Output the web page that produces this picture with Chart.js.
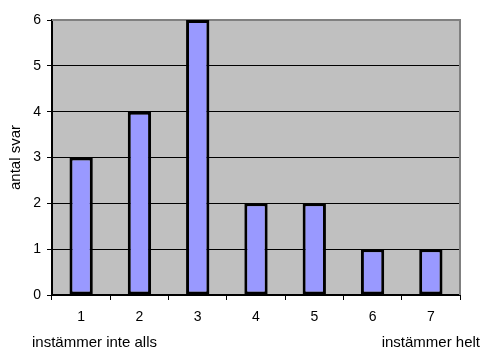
<!DOCTYPE html>
<html>
<head>
<meta charset="utf-8">
<script src="https://cdn.jsdelivr.net/npm/chart.js@4/dist/chart.umd.min.js"></script>
<style>
  html, body { margin: 0; padding: 0; background: #fff; }
  #wrap { width: 482px; height: 349px; }
</style>
</head>
<body>
<div id="wrap"><canvas id="c" width="482" height="349"></canvas></div>
<script>
// Response scale 1–7 and number of answers per step
const categories = ['1', '2', '3', '4', '5', '6', '7'];
const answerCounts = [3, 4, 6, 2, 2, 1, 1];
const yTicks = [0, 1, 2, 3, 4, 5, 6];
const yAxisTitle = 'antal svar';
const scaleLowText = 'instämmer inte alls';
const scaleHighText = 'instämmer helt';

const FONT = 'Liberation Sans, Arial, sans-serif';

// Grey plot background, grey top/right frame, and the scale-end captions
const plotDecor = {
  id: 'plotDecor',
  beforeDraw(chart) {
    const { ctx, chartArea: a } = chart;
    ctx.save();
    ctx.fillStyle = '#c0c0c0';
    ctx.fillRect(a.left, a.top, a.right - a.left, a.bottom - a.top);
    ctx.restore();
  },
  beforeDatasetsDraw(chart) {
    const { ctx, chartArea: a } = chart;
    ctx.save();
    ctx.strokeStyle = '#808080';
    ctx.lineWidth = 2;
    ctx.beginPath();
    ctx.moveTo(a.left, a.top);
    ctx.lineTo(a.right, a.top);
    ctx.lineTo(a.right, a.bottom);
    ctx.stroke();
    ctx.restore();
  },
  afterDraw(chart) {
    const { ctx } = chart;
    ctx.save();
    ctx.fillStyle = '#000';
    ctx.font = '15px ' + FONT;
    ctx.textBaseline = 'middle';
    ctx.textAlign = 'left';
    ctx.fillText(scaleLowText, 32, 343);
    ctx.textAlign = 'right';
    ctx.fillText(scaleHighText, 480, 343);
    ctx.restore();
  }
};

new Chart(document.getElementById('c'), {
  type: 'bar',
  data: {
    labels: categories,
    datasets: [{
      data: answerCounts,
      backgroundColor: '#9999ff',
      borderColor: '#000000',
      borderWidth: 3,
      borderSkipped: false,
      categoryPercentage: 1.0,
      barPercentage: 0.4
    }]
  },
  options: {
    responsive: false,
    animation: false,
    devicePixelRatio: 1,
    layout: { padding: { top: 20, right: 22, left: 0, bottom: 0 } },
    plugins: { legend: { display: false }, tooltip: { enabled: false } },
    scales: {
      x: {
        offset: true,
        grid: {
          offset: true,
          drawOnChartArea: false,
          drawTicks: true,
          tickLength: 5,
          color: '#000'
        },
        border: { color: '#000', width: 2 },
        ticks: { color: '#000', font: { family: FONT, size: 14 }, padding: 9, maxRotation: 0 },
        afterFit(scale) { scale.height = 54; }
      },
      y: {
        min: 0,
        max: 6,
        afterBuildTicks(scale) { scale.ticks = yTicks.map(v => ({ value: v })); },
        grid: {
          color: ctx => (ctx.tick && ctx.tick.value === 6 ? 'rgba(0,0,0,0)' : '#000'),
          lineWidth: 1,
          drawTicks: true,
          tickLength: 5,
          tickColor: '#000'
        },
        border: { color: '#000', width: 2 },
        ticks: { color: '#000', font: { family: FONT, size: 14 }, padding: 6 },
        title: {
          display: true,
          text: yAxisTitle,
          color: '#000',
          font: { family: FONT, size: 15 },
          padding: { top: 7, bottom: 4 }
        },
        afterFit(scale) { scale.width = 52; }
      }
    }
  },
  plugins: [plotDecor]
});
</script>
</body>
</html>
